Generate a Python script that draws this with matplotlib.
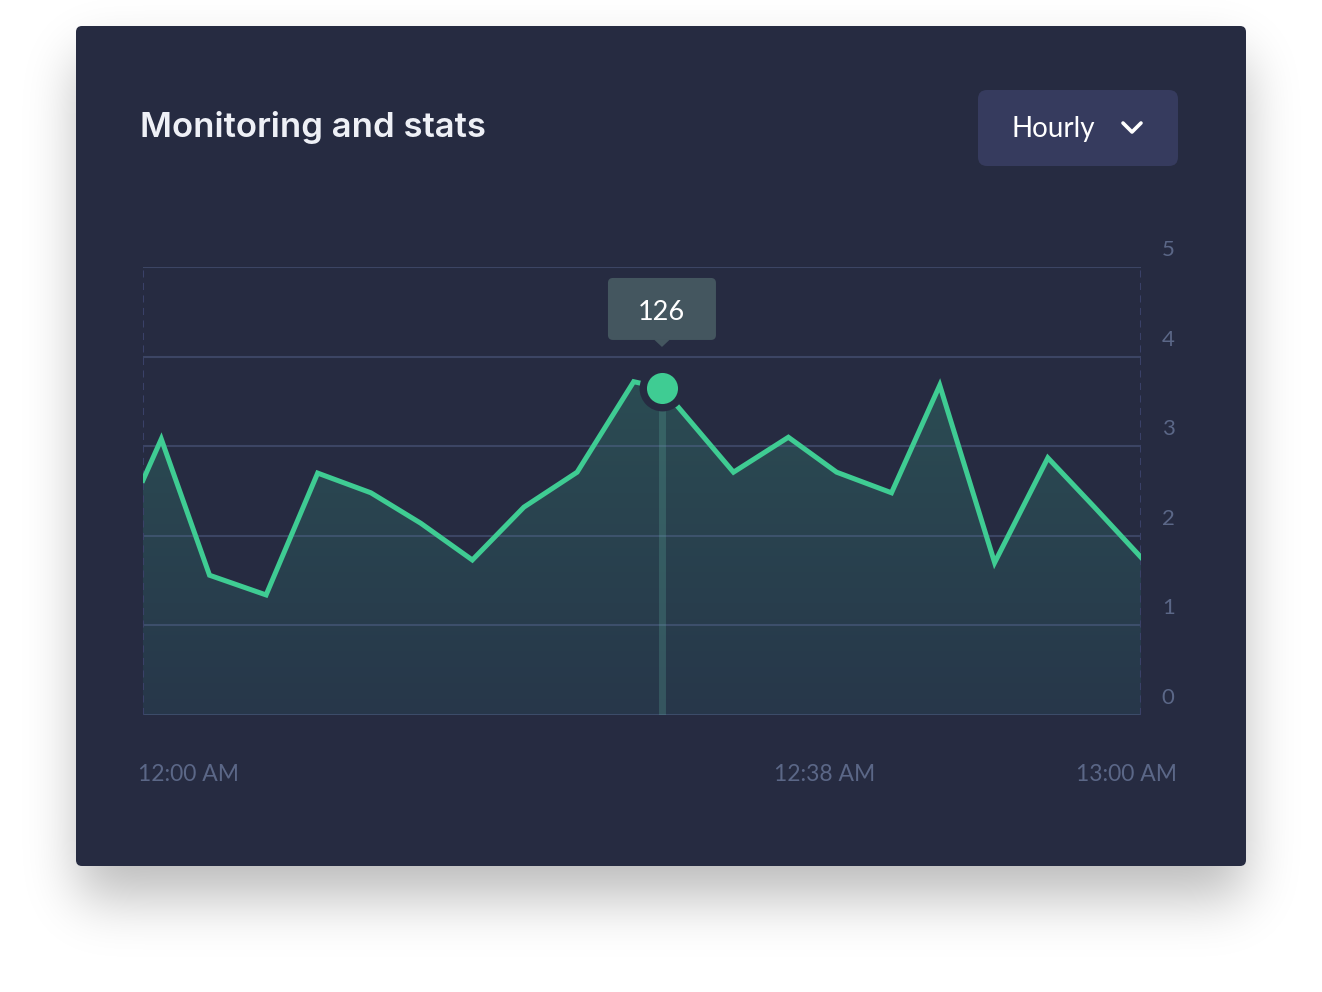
import numpy as np
import matplotlib
matplotlib.use("Agg")
import matplotlib.pyplot as plt
from matplotlib.patches import FancyBboxPatch, Polygon
from matplotlib.transforms import ScaledTranslation

# ---------------- data ----------------
minutes = [0, 1.1, 4.0, 7.4, 10.5, 13.7, 16.7, 19.8, 22.9, 26.1, 29.5, 31.2,
           35.5, 38.8, 41.7, 45.0, 47.9, 51.2, 54.4, 57.2, 60]
values = [2.62, 3.08, 1.56, 1.34, 2.70, 2.48, 2.14, 1.73, 2.32, 2.71, 3.72, 3.65,
          2.71, 3.10, 2.71, 2.48, 3.68, 1.70, 2.87, 2.32, 1.76]
highlight_index = 11
highlight_label = "126"
y_ticks = [0, 1, 2, 3, 4, 5]
x_ticks = [0, 38, 60]
x_tick_labels = ["12:00 AM", "12:38 AM", "13:00 AM"]
title = "Monitoring and stats"
dropdown_label = "Hourly"

# ---------------- style ----------------
plt.rcParams['font.family'] = ['Lato', 'DejaVu Sans']
W, H = 1322, 992
DPI = 100
CARD = '#262b41'
GREEN = '#3fcc93'
LABEL = '#5b6787'

fig = plt.figure(figsize=(W / DPI, H / DPI), dpi=DPI, facecolor='white')

# background axes in pixel coordinates (y downwards)
bg = fig.add_axes([0, 0, 1, 1], zorder=0)
bg.set_xlim(0, W)
bg.set_ylim(H, 0)
bg.axis('off')

# shadow (separable gaussian blur of offset rectangle)
def blur1d(mask, sigma):
    r = int(sigma * 3)
    k = np.exp(-0.5 * (np.arange(-r, r + 1) / sigma) ** 2)
    k /= k.sum()
    return np.convolve(mask, k, mode='same')

xs = np.arange(W)
ys = np.arange(H)
cx0, cx1, cy0, cy1 = 76, 1246, 26, 866
fx = blur1d(((xs >= cx0 + 2) & (xs <= cx1 - 2)).astype(float), 26)
fy = blur1d(((ys >= cy0 + 32) & (ys <= cy1 + 30)).astype(float), 28)
alpha = np.outer(fy, fx) * 0.27
img = np.zeros((H, W, 4))
img[..., 3] = alpha
bg.imshow(img, extent=[0, W, H, 0], interpolation='bilinear', zorder=0)

# card
bg.add_patch(FancyBboxPatch((cx0, cy0), cx1 - cx0, cy1 - cy0,
                            boxstyle="round,pad=0,rounding_size=6",
                            fc=CARD, ec='none', zorder=1))
# title
bg.text(140, 128, title, color='#eef0f6', fontsize=25, fontweight='semibold',
        family=['Inter', 'Lato', 'DejaVu Sans'],
        ha='left', va='center', zorder=2)
# dropdown
bg.add_patch(FancyBboxPatch((978, 90), 200, 76,
                            boxstyle="round,pad=0,rounding_size=9",
                            fc='#363b5e', ec='none', zorder=2))
bg.text(1012, 129, dropdown_label, color='white', fontsize=20,
        ha='left', va='center', zorder=3)
bg.plot([1123, 1132, 1141], [123, 132, 123], color='white', lw=2.6,
        solid_capstyle='round', solid_joinstyle='round', zorder=3)

# ---------------- chart ----------------
ax_l, ax_r, ax_t, ax_b = 143, 1141, 267, 715
ax = fig.add_axes([ax_l / W, 1 - ax_b / H, (ax_r - ax_l) / W, (ax_b - ax_t) / H], zorder=2)
ax.set_facecolor('none')
for s in ax.spines.values():
    s.set_visible(False)

poly = ax.fill_between(minutes, values, 0, color='none', lw=0)
top = max(values)
grad = np.linspace(0, 1, 256)[:, None]
c_bot = np.array([0x27, 0x37, 0x4a]) / 255
c_top = np.array([0x2b, 0x4c, 0x53]) / 255
gimg = c_bot[None, None, :] * (1 - grad[..., None]) + c_top[None, None, :] * grad[..., None]
gimg = np.repeat(gimg, 2, axis=1)
im = ax.imshow(gimg, extent=[min(minutes), max(minutes), 0, top], aspect='auto',
               origin='lower', zorder=1, interpolation='bilinear')
im.set_clip_path(poly.get_paths()[0], transform=ax.transData)

for v in y_ticks:
    ax.axhline(v, color='#60709e', alpha=0.38, lw=1.5, zorder=2)
for xv in (min(minutes), max(minutes)):
    ax.axvline(xv, color='#3a4168', lw=1.5, ls=(0, (3.4, 2.6)), zorder=2)

xh, yh = minutes[highlight_index], values[highlight_index]
ax.plot([xh, xh], [0, yh], color='#5fb0a0', alpha=0.25, lw=5, zorder=3,
        solid_capstyle='butt')
ax.plot(minutes, values, color=GREEN, lw=3.6, solid_joinstyle='miter', zorder=4)
ax.scatter([xh], [yh], s=1090, c=CARD, lw=0, zorder=5)
ax.scatter([xh], [yh], s=500, c=GREEN, lw=0, zorder=6)

ax.set_xlim(min(minutes), max(minutes))
ax.set_ylim(0, 5)

# y ticks on right, shifted up
ax.yaxis.tick_right()
ax.set_yticks(y_ticks)
ax.set_yticklabels([str(v) for v in y_ticks])
ax.tick_params(axis='y', length=0, pad=15, labelcolor=LABEL, labelsize=16)
for lab in ax.get_yticklabels():
    lab.set_transform(lab.get_transform() + ScaledTranslation(0, 19 / DPI, fig.dpi_scale_trans))

ax.set_xticks(x_ticks)
ax.set_xticklabels(x_tick_labels)
ax.tick_params(axis='x', length=0, pad=35, labelcolor=LABEL, labelsize=16.5)
xl = ax.get_xticklabels()
x_shifts = [-5, -1]
for lab, sh in zip(xl[:-1], x_shifts):
    lab.set_horizontalalignment('left')
    lab.set_transform(lab.get_transform() + ScaledTranslation(sh / DPI, 0, fig.dpi_scale_trans))
xl[-1].set_horizontalalignment('right')
xl[-1].set_transform(xl[-1].get_transform() + ScaledTranslation(36 / DPI, 0, fig.dpi_scale_trans))

# ---------------- tooltip overlay ----------------
ov = fig.add_axes([0, 0, 1, 1], zorder=10)
ov.set_xlim(0, W)
ov.set_ylim(H, 0)
ov.axis('off')
ov.patch.set_alpha(0)
px, py = ov.transData.inverted().transform(ax.transData.transform((xh, yh)))
TIP = '#44565f'
ov.add_patch(FancyBboxPatch((px - 54, py - 110), 108, 62,
                            boxstyle="round,pad=0,rounding_size=5",
                            fc=TIP, ec='none'))
ov.add_patch(Polygon([(px - 8, py - 48.5), (px + 8, py - 48.5), (px, py - 41)],
                     closed=True, fc=TIP, ec='none'))
ov.text(px - 1, py - 75, highlight_label, color='white', fontsize=19.5,
        ha='center', va='center')

fig.savefig('out.png', dpi=DPI, facecolor='white')
